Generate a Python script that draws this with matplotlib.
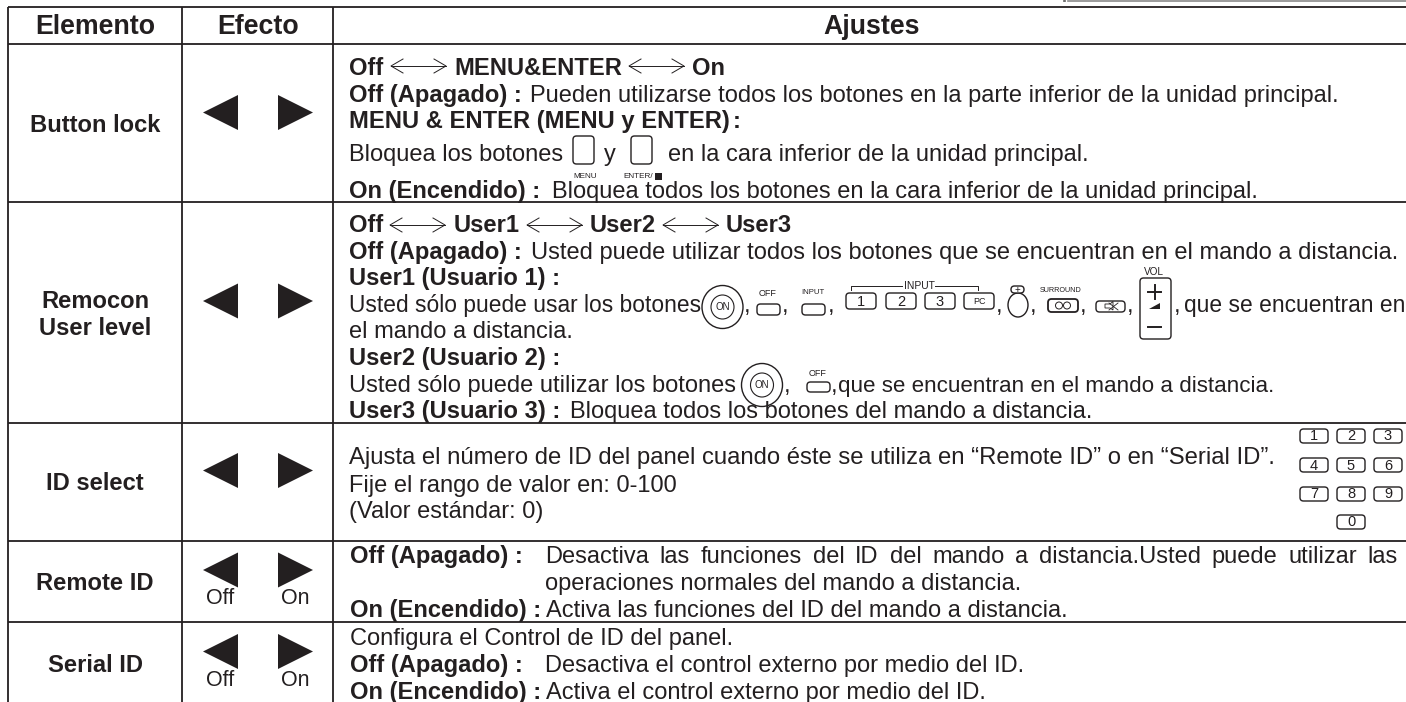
import matplotlib
matplotlib.use("Agg")
import matplotlib.pyplot as plt
from matplotlib.patches import Ellipse, FancyBboxPatch, Polygon, Rectangle

plt.rcParams["font.family"] = ["Liberation Sans", "DejaVu Sans"]

INK = "#231f20"
FS = 17.0
FS_BOLD = 17.1

HEADERS = ["Elemento", "Efecto", "Ajustes"]
HEADER_X = [95, 258, 872]
ITEMS = ["Button lock", "Remocon\nUser level", "ID select", "Remote ID", "Serial ID"]
ITEM_Y = [126, 315, 483, 583, 665]
KEYPAD = ["1", "2", "3", "4", "5", "6", "7", "8", "9", "0"]
KEYPAD_X = [1300, 1337, 1374, 1300, 1337, 1374, 1300, 1337, 1374, 1337]
KEYPAD_Y = [429, 429, 429, 458, 458, 458, 487, 487, 487, 515]
INPUT_KEYS = ["1", "2", "3", "PC"]
INPUT_X = [846, 886, 925, 964]

# (x, baseline y, weight, string) - one run of text per entry
RUNS = [
    (349, 75, "bold", "Off"), (454, 75, "bold", "MENU&ENTER"), (692, 75, "bold", "On"),
    (349, 102, "bold", "Off (Apagado) :"),
    (530, 102, "normal", "Pueden utilizarse todos los botones en la parte inferior de la unidad principal."),
    (349, 128, "bold", "MENU & ENTER (MENU y ENTER)"), (733, 128, "bold", ":"),
    (349, 161, "normal", "Bloquea los botones"), (604, 161, "normal", "y"),
    (668, 161, "normal", "en la cara inferior de la unidad principal."),
    (349, 198, "bold", "On (Encendido) :"),
    (552, 198, "normal", "Bloquea todos los botones en la cara inferior de la unidad principal."),
    (349, 232, "bold", "Off"), (454, 232, "bold", "User1"), (590, 232, "bold", "User2"), (726, 232, "bold", "User3"),
    (349, 259, "bold", "Off (Apagado) :"),
    (531, 259, "normal", "Usted puede utilizar todos los botones que se encuentran en el mando a distancia."),
    (349, 285, "bold", "User1 (Usuario 1) :"),
    (744, 312, "normal", ","), (782, 312, "normal", ","), (828, 312, "normal", ","),
    (996, 312, "normal", ","), (1030, 312, "normal", ","), (1080, 312, "normal", ","), (1127, 312, "normal", ","),
    (1174, 312, "normal", ","),
    (349, 338, "normal", "el mando a distancia."),
    (349, 365, "bold", "User2 (Usuario 2) :"),
    (349, 392, "normal", "Usted sólo puede utilizar los botones"),
    (784, 392, "normal", ","), (831, 392, "normal", ","),
    (349, 418, "bold", "User3 (Usuario 3) :"),
    (570, 418, "normal", "Bloquea todos los botones del mando a distancia."),
    (349, 492, "normal", "Fije el rango de valor en: 0-100"),
    (349, 518, "normal", "(Valor estándar: 0)"),
    (350, 563, "bold", "Off (Apagado) :"),
    (545, 590, "normal", "operaciones normales del mando a distancia."),
    (350, 617, "bold", "On (Encendido) :"),
    (546, 617, "normal", "Activa las funciones del ID del mando a distancia."),
    (350, 645, "normal", "Configura el Control de ID del panel."),
    (350, 672, "bold", "Off (Apagado) :"),
    (545, 672, "normal", "Desactiva el control externo por medio del ID."),
    (350, 699, "bold", "On (Encendido) :"),
    (546, 699, "normal", "Activa el control externo por medio del ID."),
]

# lines set tighter or looser than the body text: (x, baseline y, size, string)
SIZED_RUNS = [
    (349, 312, 16.35, "Usted sólo puede usar los botones"),
    (1184, 312, 16.4, "que se encuentran en"),
    (838, 392, 16.1, "que se encuentran en el mando a distancia."),
    (349, 464, 17.2, "Ajusta el número de ID del panel cuando éste se utiliza en “Remote ID” o en “Serial ID”."),
]

JUSTIFIED = "Desactiva las funciones del ID del mando a distancia.Usted puede utilizar las"

ROW_LINES = [7, 44, 201.5, 422.5, 540.5, 621.7]
COL_LINES = [8, 182, 333]
ARROW_Y = [112.5, 301, 470.5, 570, 651.5]
OFF_ON_Y = [599, 680.5]
DOUBLE_ARROWS = [(391, 66), (629, 66), (390, 225), (527, 225), (663, 225)]


def key(ax, x0, y0, x1, y1, label="", size=10, lw=1.0):
    ax.add_patch(FancyBboxPatch((x0 + 3, y0 + 3), x1 - x0 - 6, y1 - y0 - 6,
                                boxstyle="round,pad=3,rounding_size=3.5", fc="white", ec=INK, lw=lw))
    if label:
        ax.text((x0 + x1) / 2, (y0 + y1) / 2 + 0.5, label, fontsize=size, color=INK, ha="center", va="center")


def on_button(ax, cx, cy):
    ax.add_patch(Ellipse((cx, cy), 41, 43, fc="white", ec=INK, lw=1.0))
    ax.add_patch(Ellipse((cx, cy), 23, 24, fc="white", ec=INK, lw=0.8))
    ax.text(cx, cy + 0.5, "ON", fontsize=7, color=INK, ha="center", va="center")


def double_arrow(ax, x, y, w=55):
    ax.plot([x, x + w], [y, y], color=INK, lw=0.7)
    ax.plot([x + 12, x, x + 12], [y - 7, y, y + 7], color=INK, lw=0.7)
    ax.plot([x + w - 12, x + w, x + w - 12], [y - 7, y, y + 7], color=INK, lw=0.7)


def justified(ax, x0, x1, y, string):
    # spread the words of one line so that it runs from x0 to x1
    renderer = ax.figure.canvas.get_renderer()
    words = string.split(" ")
    labels = [ax.text(x0, y, w, fontsize=FS, color=INK, ha="left", va="baseline") for w in words]
    widths = [t.get_window_extent(renderer).width for t in labels]
    gap = (x1 - x0 - sum(widths)) / (len(words) - 1)
    x = x0
    for t, w in zip(labels, widths):
        t.set_x(x)
        x += w + gap


fig = plt.figure(figsize=(14.06, 7.02), dpi=100)
ax = fig.add_axes([0, 0, 1, 1])
ax.set_xlim(0, 1406)
ax.set_ylim(702, 0)
ax.axis("off")

# page rule cut off at the top right
ax.plot([1068, 1406], [0.5, 0.5], color="#8a8a8a", lw=1.2)
ax.plot([1064, 1065], [0.5, 0.5], color="#555555", lw=1.2)

# grid
for y in ROW_LINES:
    ax.plot([8, 1406], [y, y], color=INK, lw=1.3, solid_capstyle="butt")
for x in COL_LINES:
    ax.plot([x, x], [7, 702], color=INK, lw=1.3, solid_capstyle="butt")

# headers and item names
for cx, h in zip(HEADER_X, HEADERS):
    ax.text(cx, 27, h, fontsize=19.3, fontweight="bold", color=INK, ha="center", va="center")
for y, item in zip(ITEM_Y, ITEMS):
    ax.text(95, y, item, fontsize=FS_BOLD, fontweight="bold", color=INK, ha="center", va="center", linespacing=1.23)

# effect arrows
for y in ARROW_Y:
    ax.add_patch(Polygon([[203, y], [238, y - 17.5], [238, y + 17.5]], fc=INK, ec="none"))
    ax.add_patch(Polygon([[278, y - 17.5], [313, y], [278, y + 17.5]], fc=INK, ec="none"))
for y in OFF_ON_Y:
    ax.text(220, y, "Off", fontsize=15.5, color=INK, ha="center", va="center")
    ax.text(295, y, "On", fontsize=15.5, color=INK, ha="center", va="center")

# text runs
for x, y, weight, s in RUNS:
    size = FS_BOLD if weight == "bold" else FS
    ax.text(x, y, s, fontsize=size, fontweight=weight, color=INK, ha="left", va="baseline")
for x, y, size, s in SIZED_RUNS:
    ax.text(x, y, s, fontsize=size, color=INK, ha="left", va="baseline")
justified(ax, 545, 1398, 563, JUSTIFIED)
for x, y in DOUBLE_ARROWS:
    double_arrow(ax, x, y)

# row 1 buttons
key(ax, 573, 136, 594, 164)
ax.text(585, 176, "MENU", fontsize=5.9, color=INK, ha="center", va="center")
key(ax, 631, 136, 652, 164)
ax.text(638, 176, "ENTER/", fontsize=5.9, color=INK, ha="center", va="center")
ax.add_patch(Rectangle((655, 173), 7, 7, fc=INK, ec="none"))

# row 2 buttons
on_button(ax, 722.5, 307)
ax.text(768, 293, "OFF", fontsize=6.5, color=INK, ha="center", va="center")
key(ax, 757, 304, 780, 315)
ax.text(813, 293, "INPUT", fontsize=5.6, color=INK, ha="center", va="center")
key(ax, 802, 304, 825, 315)
for x, label in zip(INPUT_X, INPUT_KEYS):
    key(ax, x, 293, x + 30, 309, label, size=10.5 if label != "PC" else 6.5)
ax.plot([851, 851, 978, 978], [290, 286, 286, 290], color=INK, lw=0.7)
ax.text(919, 286, "INPUT", fontsize=7.5, color=INK, ha="center", va="center",
        bbox=dict(fc="white", ec="none", pad=0.5))
ax.add_patch(Ellipse((1018, 305), 20, 24, fc="white", ec=INK, lw=1.0))
key(ax, 1011, 286, 1024, 293, "+", size=7)
ax.text(1061, 290, "SURROUND", fontsize=5.2, color=INK, ha="center", va="center")
key(ax, 1048, 299, 1078, 312, lw=1.3)
for cx in [1059, 1067]:
    ax.add_patch(Ellipse((cx, 305.5), 7, 7, fc="none", ec=INK, lw=0.7))
key(ax, 1096, 301, 1125, 312)
ax.add_patch(Polygon([[1105, 304], [1110, 304], [1113, 301.5], [1113, 310], [1110, 308], [1105, 308]],
                     fc="none", ec=INK, lw=0.6))
ax.plot([1109, 1118], [303, 310], color=INK, lw=0.6)
ax.plot([1109, 1118], [310, 303], color=INK, lw=0.6)
ax.text(1154, 272, "VOL", fontsize=7.2, color=INK, ha="center", va="center")
key(ax, 1140, 278, 1171, 339)
ax.plot([1154.5, 1154.5], [285, 299], color=INK, lw=1.4)
ax.plot([1148, 1161], [292, 292], color=INK, lw=1.4)
ax.add_patch(Polygon([[1149, 309], [1160, 309], [1160, 303]], fc=INK, ec="none"))
ax.plot([1148, 1161], [327, 327], color=INK, lw=1.4)

# user2 buttons
on_button(ax, 762, 385)
ax.text(818, 373, "OFF", fontsize=6.5, color=INK, ha="center", va="center")
key(ax, 807, 382, 830, 392)

# keypad
for x, y, label in zip(KEYPAD_X, KEYPAD_Y, KEYPAD):
    key(ax, x, y, x + 28, y + 14, label, size=10.5)

fig.savefig("out.png", dpi=100)
